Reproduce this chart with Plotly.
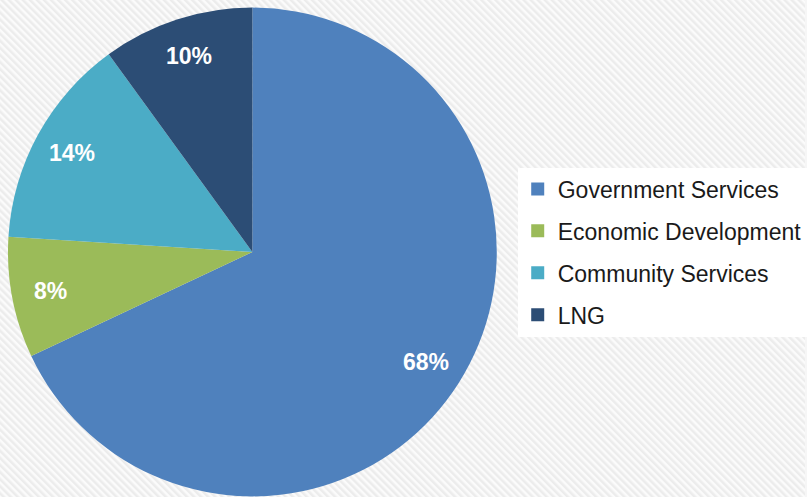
import base64
import math
import plotly.graph_objects as go

COLORS = {
    "gov": "#4F81BD",
    "econ": "#9BBB59",
    "comm": "#4BACC6",
    "lng": "#2C4D75",
    "text": "#1a1a1a",
}

labels = ["Government Services", "Economic Development", "Community Services", "LNG"]
values = [68, 8, 14, 10]
slice_colors = [COLORS["gov"], COLORS["econ"], COLORS["comm"], COLORS["lng"]]

FONT = "Liberation Sans, Arial, sans-serif"
W, H = 807, 497

# diagonal hatch background
svg = (
    '<svg xmlns="http://www.w3.org/2000/svg" width="807" height="497">'
    '<defs><pattern id="p" width="5" height="5" patternUnits="userSpaceOnUse" '
    'patternTransform="rotate(-45)">'
    '<rect width="5" height="5" fill="#fbfbfb"/>'
    '<rect width="2.5" height="5" fill="#ececec"/>'
    '</pattern></defs>'
    '<rect width="100%" height="100%" fill="url(#p)"/></svg>'
)
bg_uri = "data:image/svg+xml;base64," + base64.b64encode(svg.encode()).decode()

pie_x = [8 / W, 498 / W]
pie_y = [0, 490 / H]

fig = go.Figure()
fig.add_trace(go.Pie(
    labels=labels,
    values=values,
    sort=False,
    direction="clockwise",
    rotation=0,
    marker=dict(colors=slice_colors),
    textinfo="none",
    domain=dict(x=pie_x, y=pie_y),
    showlegend=False,
    hoverinfo="label+percent",
))

# percentage labels placed Excel-style near the outer part of each slice
cx = (pie_x[0] + pie_x[1]) / 2 * W
cy = (1 - (pie_y[0] + pie_y[1]) / 2) * H
R = (pie_x[1] - pie_x[0]) * W / 2
total = sum(values)
start = 0.0
for v in values:
    mid = (start + v / 2) / total * 2 * math.pi
    start += v
    r = R * 0.84
    px = cx + r * math.sin(mid)
    py = cy - r * math.cos(mid)
    fig.add_annotation(
        x=px / W, y=1 - py / H, xref="paper", yref="paper",
        xanchor="center", yanchor="middle",
        text=f"{v / total:.0%}", showarrow=False,
        font=dict(color="white", size=23, family=FONT, weight="bold"),
    )

# legend entries (separate groups so the rows can be spaced like the original)
for lab, col in zip(labels, slice_colors):
    fig.add_trace(go.Scatter(
        x=[None], y=[None], mode="markers", name=lab, legendgroup=lab,
        marker=dict(symbol="square", size=13, color=col),
    ))

fig.update_layout(
    width=W,
    height=H,
    margin=dict(l=0, r=0, t=0, b=0),
    paper_bgcolor="#f6f6f6",
    plot_bgcolor="rgba(0,0,0,0)",
    font=dict(family=FONT, color=COLORS["text"]),
    xaxis=dict(visible=False),
    yaxis=dict(visible=False),
    legend=dict(
        x=519 / W, xanchor="left",
        y=1 - 252 / H, yanchor="middle",
        bgcolor="white",
        font=dict(size=23, family=FONT, color=COLORS["text"]),
        tracegroupgap=9,
        itemwidth=30,
    ),
    images=[dict(
        source=bg_uri, xref="paper", yref="paper", x=0, y=1,
        sizex=1, sizey=1, sizing="stretch", layer="below",
    )],
)

fig.write_html(
    "out.html",
    config={"displayModeBar": False},
    post_script="document.body.style.margin='0';",
)
